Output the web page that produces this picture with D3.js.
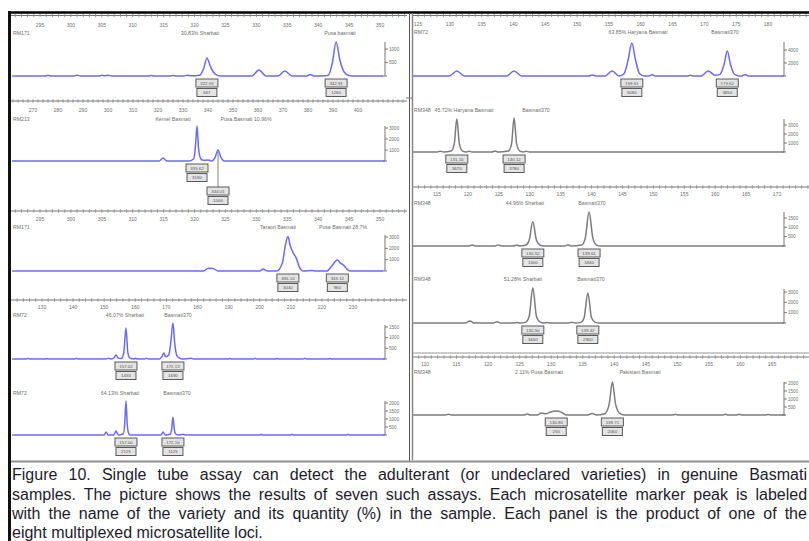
<!DOCTYPE html>
<html><head><meta charset="utf-8">
<script src="https://cdn.jsdelivr.net/npm/d3@7"></script>
<style>html,body{margin:0;padding:0;background:#fff;overflow:hidden}svg{display:block}</style>
</head><body>
<svg id="c" width="809" height="541"></svg>
<script>
// ================= DATA =================
// Left column
const L1_name = "RM171";
const L1_ticks = [295,300,305,310,315,320,325,330,335,340,345,350];
const L1_yTicks = [500,1000];
const L1_annot = ["30.83% Sharbati","Pusa basmati"];
const L1_peaks = [322.0,342.9];
const L1_boxes = [["322.05","667"],["342.91","1260"]];
const L1_trace = [[290.5,0],[295.8,0],[296.3,25],[296.8,0],[300.5,0],[301,30],[301.5,0],[304.5,0],[305,25],[305.5,10],[306,30],[306.6,0],[312.5,0],[313,20],[313.5,0],[316,0],[316.5,20],[317,0],[318.3,0],[318.8,30],[319.5,10],[320.8,30],[321.5,300],[322.0,667],[322.6,330],[323.4,60],[324.2,0],[329.3,0],[330.4,220],[331.6,0],[333.5,0],[334.6,185],[335.8,0],[338.2,0],[338.7,60],[339.3,0],[341.6,20],[342.3,500],[342.9,1260],[343.5,600],[344.2,150],[345,20],[346,0],[350.5,0]];

const L2_name = "RM213";
const L2_ticks = [270,280,290,300,310,320,330,340,350,360,370,380,390,400];
const L2_yTicks = [1000,2000,3000];
const L2_annot = ["Kernel Basmati","Pusa Basmati  10.96%"];
const L2_peaks = [335.6,344.0];
const L2_boxes = [["335.62","3180"],["344.01","1000"]];
const L2_trace = [[261.6,0],[320.5,0],[322,270],[323.5,0],[332.5,0],[334.3,200],[335.0,1400],[335.6,3180],[336.2,1200],[337,250],[338,60],[340,80],[341.5,0],[342.8,300],[344,1000],[345.2,300],[346.5,0],[410.8,0]];

const L3_name = "RM171";
const L3_ticks = [295,300,305,310,315,320,325,330,335,340,345,350];
const L3_yTicks = [1000,2000,3000];
const L3_annot = ["Taraori Basmati","Pusa Basmati 28.7%"];
const L3_peaks = [335.1,343.1];
const L3_boxes = [["335.10","3040"],["343.12","960"]];
const L3_trace = [[290.5,0],[321.5,0],[322.2,250],[323,220],[323.8,0],[330.5,0],[331.1,170],[331.8,0],[333.3,0],[334.2,700],[334.7,2300],[335.1,3040],[335.5,2200],[335.9,1650],[336.4,1200],[337,300],[337.6,0],[339,40],[339.6,0],[341.4,0],[342.2,450],[343.1,960],[343.6,700],[344.1,520],[344.7,150],[345.3,0],[350.5,0]];

const L4_name = "RM72";
const L4_ticks = [130,140,150,160,170,180,190,200,210,220,230];
const L4_yTicks = [500,1000,1500];
const L4_annot = ["46.07% Sharbati","Basmati370"];
const L4_peaks = [157.0,172.1];
const L4_boxes = [["157.02","1455"],["172.13","1690"]];
const L4_trace = [[120.4,0],[125,0],[125.5,30],[126,0],[131,0],[131.5,25],[132,0],[140.5,0],[141,30],[141.5,0],[150.5,0],[151.5,40],[152.3,0],[153.2,60],[153.8,190],[154.5,40],[155.5,20],[156.3,300],[157,1455],[157.6,300],[158.3,40],[159.5,0],[160,40],[160.6,0],[163,0],[163.6,30],[164.2,0],[167.8,0],[168.6,120],[169.2,280],[169.8,100],[170.8,200],[171.5,900],[172.1,1690],[172.7,700],[173.4,150],[174.3,40],[175,0],[178,30],[178.6,0],[190,0],[190.5,25],[191,0],[198,0],[198.5,30],[199,0],[205,0],[205.5,25],[206,0],[214,0],[214.5,30],[215,0],[222,0],[222.5,25],[223,0],[240.3,0]];

const L5_name = "RM72";
const L5_yTicks = [500,1000,1500,2000];
const L5_annot = ["64.13% Sharbati","Basmati370"];
const L5_peaks = [157.0,172.1];
const L5_boxes = [["157.00","2125"],["172.10","1125"]];
const L5_trace = [[120.4,0],[150,0],[150.6,190],[151.3,0],[153.1,0],[153.8,250],[154.5,0],[156.2,80],[156.6,700],[157,2125],[157.4,700],[157.9,80],[158.5,0],[168.3,0],[168.9,190],[169.6,0],[171.3,60],[171.7,400],[172.1,1125],[172.5,400],[173,60],[173.7,0],[175.5,40],[176,0],[200,0],[200.5,30],[201,0],[210,0],[210.5,25],[211,0],[228,0],[228.5,25],[229,0],[240.3,0]];

// Right column
const R1_name = "RM72";
const R1_ticks = [125,130,135,140,145,150,155,160,165,170,175,180];
const R1_yTicks = [2000,4000];
const R1_annot = ["63.85% Haryana Basmati","Basmati370"];
const R1_peaks = [158.6,173.6];
const R1_boxes = [["158.61","5080"],["173.62","3850"]];
const R1_trace = [[124.2,0],[129.9,0],[131.1,770],[132.3,0],[138.9,0],[140.1,770],[141.3,0],[151.8,0],[152.4,150],[153,0],[154.4,0],[155.5,770],[156.6,0],[157.4,400],[158,2400],[158.6,5080],[159.2,2400],[159.8,400],[160.6,0],[161.3,0],[161.8,200],[162.3,0],[167.3,0],[167.8,100],[168.3,0],[169.5,0],[170.6,770],[171.7,100],[172.5,300],[173.1,1800],[173.6,3850],[174.1,1800],[174.7,300],[175.4,0],[175.9,0],[176.4,250],[176.9,0],[182.5,0]];

const R2_name = "RM348";
const R2_yTicks = [1000,2000,3000];
const R2_annot = ["45.72% Haryana Basmati","Basmati370"];
const R2_peaks = [131.1,140.1];
const R2_boxes = [["131.10","3670"],["140.12","3780"]];
const R2_trace = [[124.2,0],[128,0],[128.5,80],[129,0],[130.2,100],[130.7,900],[131.1,3670],[131.5,900],[132,100],[132.6,0],[133,90],[133.5,0],[136.6,0],[137.1,120],[137.6,0],[139.2,100],[139.7,900],[140.1,3780],[140.5,900],[141,100],[141.6,0],[142,80],[142.5,0],[182.5,0]];

const R3_name = "RM348";
const R3_ticks = [115,120,125,130,135,140,145,150,155,160,165,170];
const R3_yTicks = [500,1000,1500];
const R3_annot = ["44.96% Sharbati","Basmati370"];
const R3_peaks = [130.5,139.6];
const R3_boxes = [["130.52","1300"],["139.61","1840"]];
const R3_trace = [[111.1,0],[120.2,0],[120.7,60],[121.2,0],[124.4,0],[124.9,60],[125.4,0],[127.4,0],[127.9,50],[128.4,0],[129.3,40],[129.9,300],[130.5,1300],[131.1,300],[131.7,40],[132.3,0],[135.7,0],[136.2,70],[136.7,0],[138.4,50],[139,450],[139.6,1840],[140.2,450],[140.8,50],[141.4,0],[171.2,0]];

const R4_name = "RM348";
const R4_yTicks = [1000,2000,3000];
const R4_annot = ["51.28% Sharbati","Basmati370"];
const R4_peaks = [130.5,139.4];
const R4_boxes = [["130.50","3400"],["139.42","2900"]];
const R4_trace = [[111.1,0],[119.6,0],[120.3,200],[121,0],[124.1,0],[124.7,120],[125.3,0],[127.4,0],[127.9,60],[128.4,0],[129.3,60],[129.9,600],[130.5,3400],[131.1,600],[131.7,80],[132.3,0],[132.8,60],[133.3,0],[136.3,0],[136.8,70],[137.3,0],[138.3,60],[138.8,500],[139.4,2900],[140,500],[140.6,60],[141.2,0],[171.2,0]];

const R5_name = "RM348";
const R5_ticks = [110,115,120,125,130,135,140,145,150,155,160,165];
const R5_yTicks = [500,1000,1500,2000];
const R5_annot = ["2.11%   Pusa Basmati","Pakistani Basmati"];
const R5_peaks = [130.8,139.7];
const R5_boxes = [["130.80","250"],["139.71","2060"]];
const R5_trace = [[108.1,0],[113.2,0],[113.7,50],[114.2,0],[125.7,0],[126.2,60],[126.7,0],[127.8,0],[128.4,120],[129.2,80],[130,200],[130.8,250],[131.6,180],[132.4,0],[135.8,0],[136.5,100],[137.2,0],[138.5,80],[139.2,700],[139.7,2060],[140.2,700],[140.9,80],[141.5,0],[149.2,0],[149.7,40],[150.2,0],[157.1,0],[157.6,40],[158.1,0],[159.3,0],[159.8,40],[160.3,0],[163.9,0],[164.4,35],[164.9,0],[167.1,0]];

const captionLines = [
  "Figure 10. Single tube assay can detect the adulterant (or undeclared varieties) in genuine Basmati",
  "samples. The picture shows the results of seven such assays. Each microsatellite marker peak is labeled",
  "with the name of the variety and its quantity (%) in the sample. Each panel is the product of one of the",
  "eight multiplexed microsatellite loci."
];

// ================= LAYOUT =================
const BLUE = "#6b6bf2", GREY = "#7c7c7c", TXT = "#6e6e6e";
const FONT = "'Liberation Sans', Arial, sans-serif";
const LEFT = {x0:11, x1:407, nameX:13, axisX:385};
const RIGHT = {x0:413, x1:809, nameX:414, axisX:784};

const panels = [
  {col:LEFT, name:L1_name, ticks:L1_ticks, yTicks:L1_yTicks, annot:L1_annot, annotX:[200,340], peaks:L1_peaks, boxes:L1_boxes, trace:L1_trace, color:BLUE,
   ruler:15.5, tickLabY:27, nameY:35, base:76, px:[40,380], yRef:[1000,49], axisTop:42, minor:1, boxOff:[0,0]},
  {col:LEFT, name:L2_name, ticks:L2_ticks, yTicks:L2_yTicks, annot:L2_annot, annotX:[173,246], peaks:L2_peaks, boxes:L2_boxes, trace:L2_trace, color:BLUE,
   ruler:101, tickLabY:112, nameY:121, base:161, px:[33,358], yRef:[3000,128], axisTop:126, minor:2, boxOff:[0,23]},
  {col:LEFT, name:L3_name, ticks:L3_ticks, yTicks:L3_yTicks, annot:L3_annot, annotX:[278,343], peaks:L3_peaks, boxes:L3_boxes, trace:L3_trace, color:BLUE,
   ruler:211, tickLabY:221, nameY:229, base:271, px:[40,380], yRef:[3000,237], axisTop:235, minor:1, boxOff:[0,0]},
  {col:LEFT, name:L4_name, ticks:L4_ticks, yTicks:L4_yTicks, annot:L4_annot, annotX:[125,178], peaks:L4_peaks, boxes:L4_boxes, trace:L4_trace, color:BLUE,
   ruler:300, tickLabY:309, nameY:317, base:359, px:[42,353], yRef:[1500,327], axisTop:325, minor:2, boxOff:[0,0]},
  {col:LEFT, name:L5_name, ticks:L4_ticks, showRuler:false, yTicks:L5_yTicks, annot:L5_annot, annotX:[120,177], peaks:L5_peaks, boxes:L5_boxes, trace:L5_trace, color:BLUE,
   nameY:395, base:435, px:[42,353], yRef:[2000,403], axisTop:401, boxOff:[0,0]},
  {col:RIGHT, name:R1_name, ticks:R1_ticks, yTicks:R1_yTicks, annot:R1_annot, annotX:[638,725], peaks:R1_peaks, boxes:R1_boxes, trace:R1_trace, color:BLUE,
   ruler:15.5, tickLabY:26, nameY:34, base:76, px:[418,768], yRef:[4000,50], axisTop:42, minor:1, boxOff:[0,0]},
  {col:RIGHT, name:R2_name, ticks:R1_ticks, showRuler:false, yTicks:R2_yTicks, annot:R2_annot, annotX:[464,536], peaks:R2_peaks, boxes:R2_boxes, trace:R2_trace, color:GREY,
   nameY:112, base:152, px:[418,768], yRef:[3000,125], axisTop:119, boxOff:[0,0]},
  {col:RIGHT, name:R3_name, ticks:R3_ticks, yTicks:R3_yTicks, annot:R3_annot, annotX:[525,592], peaks:R3_peaks, boxes:R3_boxes, trace:R3_trace, color:GREY,
   ruler:187, tickLabY:196, nameY:205, base:246, px:[437,777], yRef:[1500,218], axisTop:212, minor:1, boxOff:[0,0]},
  {col:RIGHT, name:R4_name, ticks:R3_ticks, showRuler:false, yTicks:R4_yTicks, annot:R4_annot, annotX:[523,591], peaks:R4_peaks, boxes:R4_boxes, trace:R4_trace, color:GREY,
   nameY:281, base:323, px:[437,777], yRef:[3000,292], axisTop:289, boxOff:[0,0]},
  {col:RIGHT, name:R5_name, ticks:R5_ticks, yTicks:R5_yTicks, annot:R5_annot, annotX:[539,640], peaks:R5_peaks, boxes:R5_boxes, trace:R5_trace, color:GREY,
   ruler:357, tickLabY:366, nameY:374, base:415, px:[425,772], yRef:[2000,383], axisTop:382, minor:1, boxOff:[0,0]}
];

// ================= DRAW =================
const svg = d3.select("#c");
svg.append("rect").attr("width",809).attr("height",541).attr("fill","#fff");

panels.forEach(p => {
  const g = svg.append("g");
  const x = d3.scaleLinear().domain([p.ticks[0], p.ticks[p.ticks.length-1]]).range(p.px);
  const y = d3.scaleLinear().domain([0, p.yRef[0]]).range([p.base, p.yRef[1]]);

  if (p.showRuler !== false) {
    const bpA = x.invert(p.col.x0), bpB = x.invert(p.col.x1);
    g.append("line").attr("x1",p.col.x0).attr("x2",p.col.x1).attr("y1",p.ruler).attr("y2",p.ruler)
      .attr("stroke","#777").attr("stroke-width",1);
    const minors = d3.range(Math.ceil(bpA/p.minor)*p.minor, bpB, p.minor);
    g.selectAll(".mt").data(minors).join("line")
      .attr("x1",d=>x(d)).attr("x2",d=>x(d)).attr("y1",p.ruler-1.8).attr("y2",p.ruler+1.8)
      .attr("stroke","#888").attr("stroke-width",0.8);
    g.selectAll(".tl").data(p.ticks).join("text")
      .attr("x",d=>x(d)).attr("y",p.tickLabY).attr("text-anchor","middle")
      .attr("font-family",FONT).attr("font-size",5).attr("fill",TXT).text(d=>d);
  }
  g.append("text").attr("x",p.col.nameX).attr("y",p.nameY).attr("font-family",FONT)
    .attr("font-size",5.2).attr("fill",TXT).text(p.name);
  p.annot.forEach((t,i)=>{
    g.append("text").attr("x",p.annotX[i]).attr("y",p.nameY).attr("text-anchor","middle")
      .attr("font-family",FONT).attr("font-size",5.2).attr("fill",TXT).text(t);
  });
  const ax = p.col.axisX;
  g.append("line").attr("x1",ax).attr("x2",ax).attr("y1",p.axisTop).attr("y2",p.base)
    .attr("stroke","#777").attr("stroke-width",1);
  g.append("line").attr("x1",ax-2).attr("x2",ax+2).attr("y1",p.base).attr("y2",p.base)
    .attr("stroke","#777").attr("stroke-width",1);
  g.selectAll(".yt").data(p.yTicks).join("line")
    .attr("x1",ax).attr("x2",ax+3).attr("y1",d=>y(d)).attr("y2",d=>y(d))
    .attr("stroke","#777").attr("stroke-width",1);
  g.selectAll(".yl").data(p.yTicks).join("text")
    .attr("x",ax+4).attr("y",d=>y(d)+1.6).attr("font-family",FONT).attr("font-size",4.6)
    .attr("fill",TXT).text(d=>d);
  const line = d3.line().x(d=>x(d[0])).y(d=>y(d[1])).curve(d3.curveMonotoneX);
  g.append("path").datum(p.trace).attr("d",line).attr("fill","none")
    .attr("stroke",p.color).attr("stroke-width",1.5).attr("stroke-linejoin","round");
  p.peaks.forEach((bp,i)=>{
    const cx = x(bp), off = p.boxOff[i];
    const top = p.base + 3 + off;
    if (off > 0) {
      const pk = p.trace.find(d=>d[0]===bp);
      g.append("line").attr("x1",cx).attr("x2",cx).attr("y1",y(pk?pk[1]:0)+2).attr("y2",top)
        .attr("stroke","#666").attr("stroke-width",0.8);
    }
    [[0,22,p.boxes[i][0]],[9.5,20,p.boxes[i][1]]].forEach(([dy,w,t])=>{
      g.append("rect").attr("x",cx-w/2).attr("y",top+dy).attr("width",w).attr("height",8)
        .attr("fill","#e4e4e4").attr("stroke","#5a5a5a").attr("stroke-width",1);
      g.append("text").attr("x",cx).attr("y",top+dy+5.6).attr("text-anchor","middle")
        .attr("font-family",FONT).attr("font-size",4.4).attr("fill","#555").text(t);
    });
  });
});

// frame lines
svg.append("line").attr("x1",8).attr("x2",809).attr("y1",12.5).attr("y2",12.5).attr("stroke","#000").attr("stroke-width",2.5);
svg.append("line").attr("x1",9.5).attr("x2",9.5).attr("y1",11).attr("y2",541).attr("stroke","#111").attr("stroke-width",3);
svg.append("line").attr("x1",409.5).attr("x2",409.5).attr("y1",13).attr("y2",462).attr("stroke","#555").attr("stroke-width",1);
svg.append("line").attr("x1",412.5).attr("x2",412.5).attr("y1",13).attr("y2",460).attr("stroke","#888").attr("stroke-width",1.5);
svg.append("line").attr("x1",406).attr("x2",412).attr("y1",98).attr("y2",98).attr("stroke","#777").attr("stroke-width",1);
svg.append("line").attr("x1",413).attr("x2",809).attr("y1",353).attr("y2",353).attr("stroke","#999").attr("stroke-width",1);
svg.append("line").attr("x1",11).attr("x2",809).attr("y1",461.5).attr("y2",461.5).attr("stroke","#8f8f8f").attr("stroke-width",2);

// caption (justified lines)
const targets = [795, 795, 795, null];
const baselines = [480, 499.5, 519, 538];
captionLines.forEach((t,i)=>{
  const tx = svg.append("text").attr("x",12).attr("y",baselines[i]).attr("font-family",FONT)
    .attr("font-size",16).attr("fill","#1e1b2e").text(t);
  if (targets[i]) {
    const nat = tx.node().getComputedTextLength();
    const spaces = (t.match(/ /g)||[]).length;
    tx.attr("word-spacing", ((targets[i]-nat)/spaces).toFixed(2)+"px");
  }
});
</script>
</body></html>
